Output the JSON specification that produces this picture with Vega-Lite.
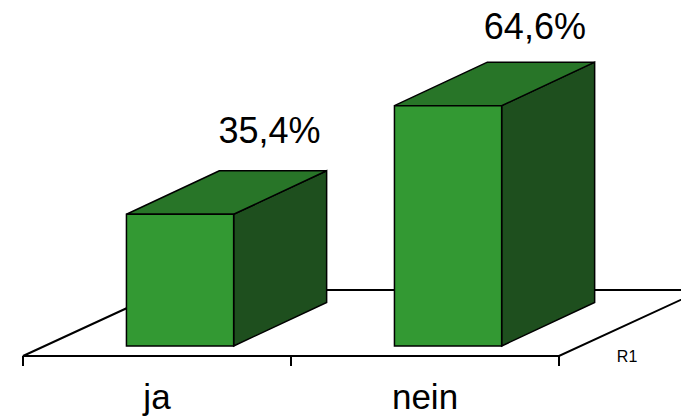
{
  "$schema": "https://vega.github.io/schema/vega-lite/v6.json",
  "width": 681,
  "height": 417,
  "padding": 0,
  "autosize": {"type": "none"},
  "background": "white",
  "config": {"view": {"stroke": null}},
  "datasets": {
    "floor": [
      {"p": -2.69, "xa": 0, "xb": 2.0},
      {"p": 15.05, "xa": 0.534, "xb": 2.534}
    ],
    "ticks": [
      {"u": 0, "p1": -2.69, "p2": -5.38},
      {"u": 1, "p1": -2.69, "p2": -5.38},
      {"u": 2, "p1": -2.69, "p2": -5.38}
    ],
    "fronts": [
      {"cat": "ja", "x1": 0.386, "x2": 0.786, "base": 0, "v": 35.4},
      {"cat": "nein", "x1": 1.386, "x2": 1.786, "base": 0, "v": 64.6}
    ],
    "sides": [
      {"cat": "ja", "u": 0.786, "lo": 0, "hi": 35.4},
      {"cat": "ja", "u": 1.133, "lo": 11.7, "hi": 47.1},
      {"cat": "nein", "u": 1.786, "lo": 0, "hi": 64.6},
      {"cat": "nein", "u": 2.133, "lo": 11.7, "hi": 76.3}
    ],
    "tops": [
      {"cat": "ja", "p": 35.4, "a": 0.386, "b": 0.786},
      {"cat": "ja", "p": 47.1, "a": 0.733, "b": 1.133},
      {"cat": "nein", "p": 64.6, "a": 1.386, "b": 1.786},
      {"cat": "nein", "p": 76.3, "a": 1.733, "b": 2.133}
    ],
    "valueLabels": [
      {"t": "35,4%", "u": 0.92, "p": 54.5},
      {"t": "64,6%", "u": 1.91, "p": 82.6}
    ],
    "catLabels": [
      {"t": "ja", "u": 0.5, "p": -16.9},
      {"t": "nein", "u": 1.5, "p": -16.9}
    ],
    "seriesLabels": [
      {"t": "R1", "u": 2.254, "p": -4.22}
    ]
  },
  "layer": [
    {
      "data": {"name": "floor"},
      "mark": {"type": "area", "orient": "horizontal", "fill": "white", "stroke": "black", "strokeWidth": 2, "opacity": 1, "clip": true},
      "encoding": {
        "y": {"field": "p", "type": "quantitative", "scale": {"domain": [-19.09, 93.01], "nice": false, "zero": false}, "axis": null},
        "x": {"field": "xa", "type": "quantitative", "scale": {"domain": [-0.0858, 2.4552], "nice": false, "zero": false}, "axis": null},
        "x2": {"field": "xb"}
      }
    },
    {
      "data": {"name": "ticks"},
      "mark": {"type": "rule", "stroke": "black", "strokeWidth": 2},
      "encoding": {
        "x": {"field": "u", "type": "quantitative", "scale": {"domain": [-0.0858, 2.4552], "nice": false, "zero": false}, "axis": null},
        "y": {"field": "p1", "type": "quantitative", "scale": {"domain": [-19.09, 93.01], "nice": false, "zero": false}, "axis": null},
        "y2": {"field": "p2"}
      }
    },
    {
      "data": {"name": "sides"},
      "mark": {"type": "area", "orient": "vertical", "fill": "#1e4f1e", "stroke": "black", "strokeWidth": 1.5, "opacity": 1},
      "encoding": {
        "x": {"field": "u", "type": "quantitative", "scale": {"domain": [-0.0858, 2.4552], "nice": false, "zero": false}, "axis": null},
        "y": {"field": "lo", "type": "quantitative", "scale": {"domain": [-19.09, 93.01], "nice": false, "zero": false}, "axis": null},
        "y2": {"field": "hi"},
        "detail": {"field": "cat", "type": "nominal"}
      }
    },
    {
      "data": {"name": "tops"},
      "mark": {"type": "area", "orient": "horizontal", "fill": "#287528", "stroke": "black", "strokeWidth": 1.5, "opacity": 1},
      "encoding": {
        "y": {"field": "p", "type": "quantitative", "scale": {"domain": [-19.09, 93.01], "nice": false, "zero": false}, "axis": null},
        "x": {"field": "a", "type": "quantitative", "scale": {"domain": [-0.0858, 2.4552], "nice": false, "zero": false}, "axis": null},
        "x2": {"field": "b"},
        "detail": {"field": "cat", "type": "nominal"}
      }
    },
    {
      "data": {"name": "fronts"},
      "mark": {"type": "rect", "fill": "#339933", "stroke": "black", "strokeWidth": 1.5, "opacity": 1},
      "encoding": {
        "x": {"field": "x1", "type": "quantitative", "scale": {"domain": [-0.0858, 2.4552], "nice": false, "zero": false}, "axis": null},
        "x2": {"field": "x2"},
        "y": {"field": "base", "type": "quantitative", "scale": {"domain": [-19.09, 93.01], "nice": false, "zero": false}, "axis": null},
        "y2": {"field": "v"}
      }
    },
    {
      "data": {"name": "valueLabels"},
      "mark": {"type": "text", "font": "Liberation Sans", "fontSize": 36, "align": "center", "baseline": "alphabetic", "color": "black"},
      "encoding": {
        "x": {"field": "u", "type": "quantitative", "scale": {"domain": [-0.0858, 2.4552], "nice": false, "zero": false}, "axis": null},
        "y": {"field": "p", "type": "quantitative", "scale": {"domain": [-19.09, 93.01], "nice": false, "zero": false}, "axis": null},
        "text": {"field": "t", "type": "nominal"}
      }
    },
    {
      "data": {"name": "catLabels"},
      "mark": {"type": "text", "font": "Liberation Sans", "fontSize": 35, "align": "center", "baseline": "alphabetic", "color": "black"},
      "encoding": {
        "x": {"field": "u", "type": "quantitative", "scale": {"domain": [-0.0858, 2.4552], "nice": false, "zero": false}, "axis": null},
        "y": {"field": "p", "type": "quantitative", "scale": {"domain": [-19.09, 93.01], "nice": false, "zero": false}, "axis": null},
        "text": {"field": "t", "type": "nominal"}
      }
    },
    {
      "data": {"name": "seriesLabels"},
      "mark": {"type": "text", "font": "Liberation Sans", "fontSize": 16, "align": "center", "baseline": "alphabetic", "color": "black"},
      "encoding": {
        "x": {"field": "u", "type": "quantitative", "scale": {"domain": [-0.0858, 2.4552], "nice": false, "zero": false}, "axis": null},
        "y": {"field": "p", "type": "quantitative", "scale": {"domain": [-19.09, 93.01], "nice": false, "zero": false}, "axis": null},
        "text": {"field": "t", "type": "nominal"}
      }
    }
  ]
}
